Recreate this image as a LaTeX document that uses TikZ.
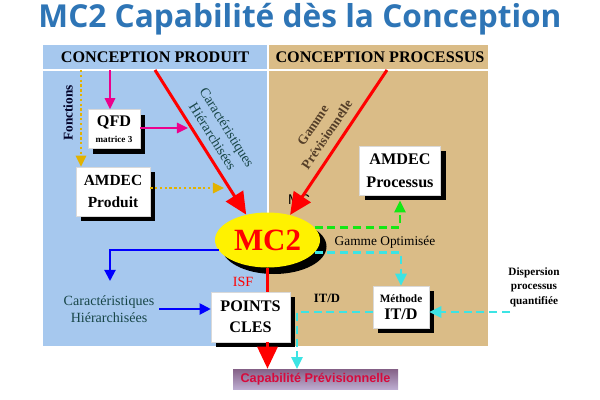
\documentclass[tikz,border=0pt]{standalone}
\usepackage{fontspec}
\setmainfont{Liberation Serif}
\setsansfont{Liberation Sans}
\newfontfamily\titrefont{Open Sans}
\usetikzlibrary{arrows.meta,shapes.geometric,shadows}
\definecolor{bleuprod}{RGB}{166,200,238}
\definecolor{beigeproc}{RGB}{218,188,135}
\definecolor{bleutitre}{RGB}{46,117,182}
\definecolor{sarcelle}{RGB}{24,70,72}
\definecolor{brun}{RGB}{84,62,40}
\definecolor{ocre}{RGB}{226,178,0}
\definecolor{turquoise}{RGB}{60,228,228}
\definecolor{vertvif}{RGB}{20,232,20}
\definecolor{cramoisi}{RGB}{215,10,60}
\definecolor{mauvehaut}{RGB}{132,96,134}
\definecolor{mauvebas}{RGB}{188,172,208}
\tikzset{
	boite/.style={fill=white, draw=black!15, inner sep=0pt, align=center,
		drop shadow={fill=black, opacity=1, shadow xshift=1.25mm, shadow yshift=-1.25mm}},
	ovale/.style={ellipse, minimum width=26.25mm, minimum height=13.75mm, inner sep=0pt},
	rouge/.style={red, line width=0.75mm, -{Triangle[length=5.5mm, width=5mm]}},
	magenta fl/.style={magenta, line width=0.5mm, -{Triangle[length=2.8mm, width=2.6mm]}},
	ocre fl/.style={ocre, line width=0.5mm, dash pattern=on 0.6mm off 0.6mm, -{Triangle[length=2.8mm, width=2.6mm]}},
	bleu fl/.style={blue, line width=0.5mm, -{Triangle[length=2.8mm, width=2.8mm]}},
	vert fl/.style={vertvif, line width=0.6mm, dash pattern=on 2mm off 1.2mm, -{Triangle[length=3mm, width=2.8mm]}},
	turq fl/.style={turquoise, line width=0.6mm, dash pattern=on 2mm off 1.2mm, -{Triangle[length=3mm, width=2.8mm]}},
}

\begin{document}
\begin{tikzpicture}[x=0.25mm, y=-0.25mm]
			%%%%% START %%%%%
			\useasboundingbox (0, 0) rectangle (600, 400);
			
			\node[text=bleutitre, font=\titrefont\bfseries\fontsize{22.5}{24}\selectfont] (titre) at (300, 19) {MC2 Capabilité dès la Conception};
			
			% les deux zones
			\fill[bleuprod] (43, 45) rectangle (268, 346);
			\fill[beigeproc] (268, 45) rectangle (488, 346);
			\draw[white, line width=0.3mm] (43, 70) -- (488, 70);
			\draw[white, line width=0.3mm] (268, 45) -- (268, 346);
			
			\node[font=\bfseries\fontsize{11.5}{12}\selectfont] (prod) at (155, 57) {CONCEPTION PRODUIT};
			\node[font=\bfseries\fontsize{11.5}{12}\selectfont] (proc) at (380, 57) {CONCEPTION PROCESSUS};
			
			\coordinate (hq) at (110, 70);
			\coordinate (hf) at (81, 70);
			\coordinate (hr1) at (155, 70);
			\coordinate (hr2) at (387, 70);
			\coordinate (cq) at (188, 128);
			\coordinate (ca) at (224, 188);
			\coordinate (cb) at (110, 281);
			\coordinate (cd) at (510, 312);
			\coordinate (cc) at (297, 369);
			
			% boites
			\node[boite, minimum width=13mm, minimum height=9.75mm] (qfd) at (114, 129)
				{\bfseries\fontsize{11.5}{11}\selectfont QFD\\[-1pt]\bfseries\fontsize{6.5}{8}\selectfont matrice 3};
			\node[boite, minimum width=18.5mm, minimum height=12.25mm, font=\bfseries\fontsize{11}{16}\selectfont] (amdecp) at (113, 191.5) {AMDEC\\Produit};
			\node[boite, minimum width=20.25mm, minimum height=12.25mm, font=\bfseries\fontsize{11.5}{16}\selectfont] (amdecpr) at (400, 170.5) {AMDEC\\Processus};
			\node[boite, minimum width=19.75mm, minimum height=12.5mm, font=\bfseries\fontsize{11.5}{15}\selectfont] (points) at (250.5, 317) {POINTS\\CLES};
			\node[boite, minimum width=14mm, minimum height=10.5mm] (methode) at (401, 307)
				{\bfseries\fontsize{8}{9}\selectfont Méthode\\\bfseries\fontsize{11.5}{12}\selectfont IT/D};
			
			\node[ovale, fill=black] (ombre) at (274, 246.5) {};
			\node[ovale, fill=yellow, text=red, font=\bfseries\fontsize{22}{22}\selectfont] (mc2) at (267.5, 240) {MC2};
			
			\node[minimum width=41.25mm, minimum height=5mm, inner sep=0pt, top color=mauvehaut, bottom color=mauvebas,
				text=cramoisi, font=\sffamily\bfseries\fontsize{9}{10}\selectfont] (cap) at (315.5, 379) {Capabilité Prévisionnelle};
			
			% textes
			\node[rotate=90, text=black!85!blue, font=\bfseries\fontsize{9.5}{11}\selectfont] (fonctions) at (68, 113) {Fonctions};
			\node[rotate=-58, align=center, text=sarcelle, font=\fontsize{10}{12}\selectfont] (carh) at (220, 132) {Caractéristiques\\Hiérarchisées};
			\node[rotate=56, align=center, text=brun, font=\bfseries\fontsize{9.5}{12}\selectfont] (gprev) at (320, 130) {Gamme\\Prévisionnelle};
			\node[font=\sffamily\fontsize{10}{12}\selectfont] (mc) at (299, 200) {MC};
			\node[font=\fontsize{9.5}{11}\selectfont] (gopt) at (385, 242) {Gamme Optimisée};
			\node[text=red, font=\fontsize{10}{12}\selectfont] (isf) at (243, 282) {ISF};
			\node[font=\bfseries\fontsize{9}{11}\selectfont] (itd) at (327, 298) {IT/D};
			\node[align=center, font=\bfseries\fontsize{8}{10.3}\selectfont] (disp) at (534, 287) {Dispersion\\processus\\quantifiée};
			\node[align=center, text=sarcelle, font=\fontsize{10}{12}\selectfont] (carb) at (109, 309) {Caractéristiques\\Hiérarchisées};
			
			% fleches
			\draw[magenta fl] (hq) -- (hq |- qfd.north);
			\draw[magenta fl] (qfd.east |- cq) -- (cq);
			\draw[ocre fl] (hf) -- (hf |- amdecp.north);
			\draw[ocre fl] (amdecp.east |- ca) -- (ca);
			
			\draw[rouge] (hr1) -- (mc2.130);
			\draw[rouge] (hr2) -- (mc2.48);
			\draw[red, line width=0.75mm] (mc2.south) -- (mc2.south |- points.north);
			\draw[rouge] (mc2.south |- points.south) -- (mc2.south |- cap.north);
			
			\draw[bleu fl] (mc2.192) -| (cb);
			\draw[bleu fl] (carb.east) -- (carb.east -| points.west);
			
			\draw[vert fl, shorten >=1.3mm] (mc2.15) -| (amdecpr.south);
			\draw[turq fl] (mc2.-15) -| (methode.north);
			\draw[turq fl] (cd) -- (cd -| methode.east);
			\draw[turq fl] (methode.west |- cd) -| (cc);
			
			%%%%% END %%%%%
		\end{tikzpicture}
\end{document}
